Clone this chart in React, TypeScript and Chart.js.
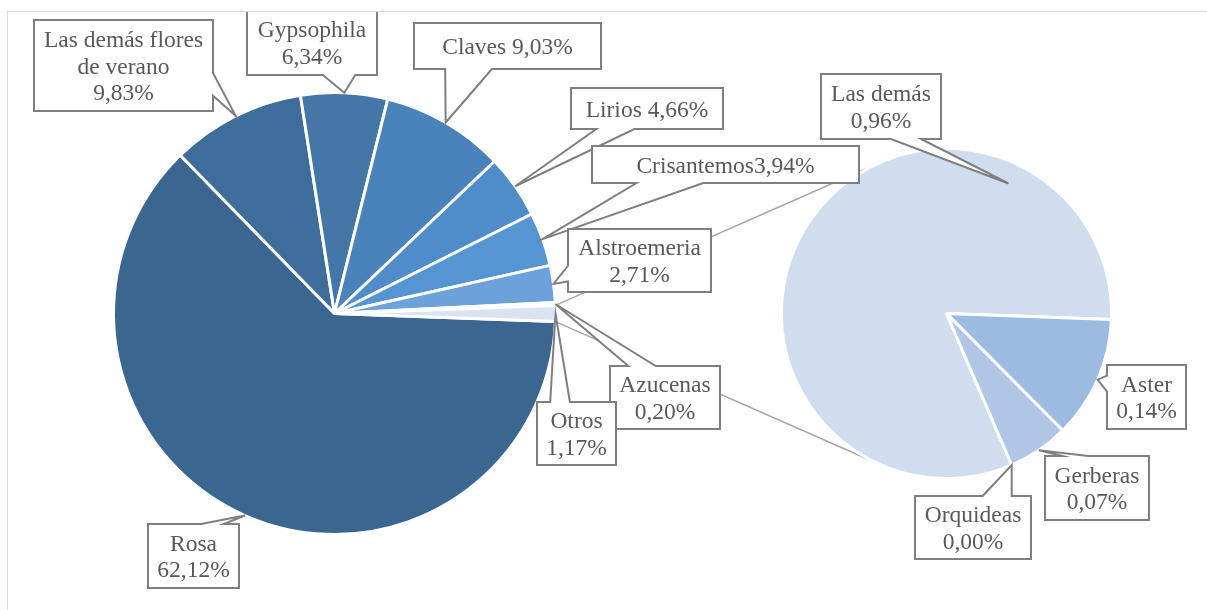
import React, { useEffect, useRef } from "react";
import { Chart, registerables } from "chart.js";

Chart.register(...registerables);

// ---- data ----
const mainCategories = [
  "Rosa",
  "Las demás flores de verano",
  "Gypsophila",
  "Claves",
  "Lirios",
  "Crisantemos",
  "Alstroemeria",
  "Azucenas",
  "Otros",
];
const mainValues = [62.12, 9.83, 6.34, 9.03, 4.66, 3.94, 2.71, 0.2, 1.17];
const mainColors = [
  "#3A6690",
  "#3E6D9B",
  "#4476A8",
  "#4A82BB",
  "#4F8CCA",
  "#5595D4",
  "#6CA1DA",
  "#EEF3FA",
  "#D9E3F2",
];

const subCategories = ["Las demás", "Aster", "Gerberas", "Orquideas"];
const subValues = [0.96, 0.14, 0.07, 0.0];
const subColors = ["#CFDDEE", "#9DBBE1", "#B1C7E6", "#C5D5EC"];

// ---- layout / style ----
type Side = "t" | "b" | "l" | "r";
type LabelLayout = {
  box: [number, number, number, number];
  side: Side;
  mode: "stack" | "inline" | "tight";
  wrap?: number;
  tip?: [number, number]; // [angle deg clockwise from north, radius fraction]
};

const mainLabelLayout: LabelLayout[] = [
  { box: [148, 524, 91, 64], side: "t", mode: "stack" },
  { box: [34, 20, 179, 91], side: "r", mode: "stack", wrap: 3 },
  { box: [247, 10, 130, 65], side: "b", mode: "stack" },
  { box: [414, 23, 187, 46], side: "b", mode: "inline" },
  { box: [571, 88, 152, 41], side: "b", mode: "inline" },
  { box: [592, 146, 267, 37], side: "b", mode: "tight" },
  { box: [568, 229, 143, 63], side: "l", mode: "stack" },
  { box: [610, 366, 110, 63], side: "t", mode: "stack" },
  { box: [537, 402, 79, 63], side: "t", mode: "stack" },
];
const subLabelLayout: LabelLayout[] = [
  { box: [821, 74, 120, 65], side: "b", mode: "stack", tip: [25.5, 0.873] },
  { box: [1107, 365, 79, 64], side: "l", mode: "stack" },
  { box: [1045, 456, 104, 64], side: "t", mode: "stack" },
  { box: [915, 496, 116, 63], side: "t", mode: "stack" },
];

const W = 1207;
const H = 610;
const FONT = '23.5px "Liberation Serif", "Times New Roman", serif';
const TEXT_COLOR = "#595959";
const BOX_STROKE = "#7F7F7F";
const CONNECTOR = "#A6A6A6";
const LINE_H = 26.5;
const SLICE_BORDER = 3;

const sumOf = (a: number[]) => a.reduce((s, v) => s + v, 0);
const otrosIndex = mainCategories.indexOf("Otros");
// Excel centres the "Otros" slice on 3 o'clock
const mainRotation =
  90 + ((mainValues[otrosIndex] / sumOf(mainValues)) * 360) / 2;
const subRotation = mainRotation - (subValues[0] / sumOf(subValues)) * 360;

const fmt = (v: number) => v.toFixed(2).replace(".", ",") + "%";

function labelLines(name: string, v: number, L: LabelLayout): string[] {
  if (L.mode === "inline") return [name + " " + fmt(v)];
  if (L.mode === "tight") return [name + fmt(v)];
  const lines: string[] = [];
  if (L.wrap) {
    const words = name.split(" ");
    lines.push(words.slice(0, L.wrap).join(" "));
    lines.push(words.slice(L.wrap).join(" "));
  } else lines.push(name);
  lines.push(fmt(v));
  return lines;
}

function calloutPath(
  ctx: CanvasRenderingContext2D,
  L: LabelLayout,
  tx: number,
  ty: number
) {
  const [x, y, w, h] = L.box;
  const horiz = L.side === "t" || L.side === "b";
  const len = horiz ? w : h;
  const proj = horiz ? tx - x : ty - y;
  const first = [len / 6, (5 * len) / 12];
  const second = [(7 * len) / 12, (5 * len) / 6];
  const c1 = (first[0] + first[1]) / 2;
  const c2 = (second[0] + second[1]) / 2;
  const [a, b] = Math.abs(proj - c1) <= Math.abs(proj - c2) ? first : second;
  ctx.beginPath();
  ctx.moveTo(x, y);
  if (L.side === "t") {
    ctx.lineTo(x + a, y);
    ctx.lineTo(tx, ty);
    ctx.lineTo(x + b, y);
  }
  ctx.lineTo(x + w, y);
  if (L.side === "r") {
    ctx.lineTo(x + w, y + a);
    ctx.lineTo(tx, ty);
    ctx.lineTo(x + w, y + b);
  }
  ctx.lineTo(x + w, y + h);
  if (L.side === "b") {
    ctx.lineTo(x + b, y + h);
    ctx.lineTo(tx, ty);
    ctx.lineTo(x + a, y + h);
  }
  ctx.lineTo(x, y + h);
  if (L.side === "l") {
    ctx.lineTo(x, y + b);
    ctx.lineTo(tx, ty);
    ctx.lineTo(x, y + a);
  }
  ctx.closePath();
}

function makeLabelPlugin(
  id: string,
  categories: string[],
  values: number[],
  layout: LabelLayout[]
) {
  return {
    id,
    afterDraw(chart: any) {
      const ctx: CanvasRenderingContext2D = chart.ctx;
      const meta = chart.getDatasetMeta(0);
      ctx.save();
      ctx.beginPath();
      ctx.rect(8, 12, chart.width - 8, chart.height - 12);
      ctx.clip();
      ctx.font = FONT;
      meta.data.forEach((el: any, i: number) => {
        const L = layout[i];
        if (!L) return;
        const p = el.getProps(
          ["x", "y", "startAngle", "endAngle", "outerRadius"],
          true
        );
        let tx: number, ty: number;
        if (L.tip) {
          const ang = ((L.tip[0] - 90) * Math.PI) / 180;
          const r = L.tip[1] * p.outerRadius;
          tx = p.x + r * Math.cos(ang);
          ty = p.y + r * Math.sin(ang);
        } else {
          const mid = (p.startAngle + p.endAngle) / 2;
          const r = p.outerRadius;
          tx = p.x + r * Math.cos(mid);
          ty = p.y + r * Math.sin(mid);
        }
        calloutPath(ctx, L, tx, ty);
        ctx.fillStyle = "#FFFFFF";
        ctx.fill();
        ctx.lineWidth = 2;
        ctx.strokeStyle = BOX_STROKE;
        ctx.lineJoin = "miter";
        ctx.stroke();

        const lines = labelLines(categories[i], values[i], L);
        const [bx, by, bw, bh] = L.box;
        const cx = bx + bw / 2;
        const cy = by + bh / 2 + 2;
        ctx.fillStyle = TEXT_COLOR;
        ctx.textAlign = "center";
        ctx.textBaseline = "middle";
        lines.forEach((t, k) => {
          ctx.fillText(t, cx, cy + (k - (lines.length - 1) / 2) * LINE_H);
        });
      });
      ctx.restore();
    },
  };
}

function makeConnectorPlugin(getMain: () => any) {
  return {
    id: "connectors",
    beforeDatasetsDraw(chart: any) {
      const main = getMain();
      if (!main) return;
      const otros = main.getDatasetMeta(0).data[otrosIndex];
      const sub = chart.getDatasetMeta(0).data[0];
      if (!otros || !sub) return;
      const o = otros.getProps(
        ["x", "y", "startAngle", "endAngle", "outerRadius"],
        true
      );
      const s = sub.getProps(["x", "y", "outerRadius"], true);
      const R = o.outerRadius;
      const pts = [
        { x: o.x + R * Math.cos(o.startAngle), y: o.y + R * Math.sin(o.startAngle), sgn: -1 },
        { x: o.x + R * Math.cos(o.endAngle), y: o.y + R * Math.sin(o.endAngle), sgn: 1 },
      ];
      const ctx: CanvasRenderingContext2D = chart.ctx;
      ctx.save();
      ctx.strokeStyle = CONNECTOR;
      ctx.lineWidth = 1.5;
      pts.forEach((P) => {
        const dx = s.x - P.x;
        const dy = s.y - P.y;
        const d = Math.hypot(dx, dy);
        const th = Math.atan2(dy, dx);
        const al = Math.asin(Math.min(1, s.outerRadius / d));
        const Lg = Math.sqrt(Math.max(0, d * d - s.outerRadius * s.outerRadius));
        const dir = th + P.sgn * al;
        ctx.beginPath();
        ctx.moveTo(P.x, P.y);
        ctx.lineTo(P.x + Lg * Math.cos(dir), P.y + Lg * Math.sin(dir));
        ctx.stroke();
      });
      ctx.restore();
    },
  };
}

export default function App() {
  const mainRef = useRef<HTMLCanvasElement | null>(null);
  const subRef = useRef<HTMLCanvasElement | null>(null);

  useEffect(() => {
    document.documentElement.style.overflow = "hidden";
    if (!mainRef.current || !subRef.current) return;

    const common = {
      responsive: false,
      maintainAspectRatio: false,
      animation: false as const,
      devicePixelRatio: 1,
      events: [] as any[],
      plugins: { legend: { display: false }, tooltip: { enabled: false } },
    };

    const mainChart = new Chart(mainRef.current, {
      type: "pie",
      data: {
        labels: mainCategories,
        datasets: [
          {
            data: mainValues,
            backgroundColor: mainColors,
            borderColor: "#FFFFFF",
            borderWidth: SLICE_BORDER,
          },
        ],
      },
      options: {
        ...common,
        rotation: mainRotation,
        layout: { padding: { left: 112, top: 91, right: 650, bottom: 74 } },
      } as any,
      plugins: [
        makeLabelPlugin("mainLabels", mainCategories, mainValues, mainLabelLayout),
      ],
    });

    const subChart = new Chart(subRef.current, {
      type: "pie",
      data: {
        labels: subCategories,
        datasets: [
          {
            data: subValues,
            backgroundColor: subColors,
            borderColor: "#FFFFFF",
            borderWidth: SLICE_BORDER,
          },
        ],
      },
      options: {
        ...common,
        rotation: subRotation,
        layout: { padding: { left: 780, top: 147, right: 94, bottom: 130 } },
      } as any,
      plugins: [
        makeConnectorPlugin(() => mainChart),
        makeLabelPlugin("subLabels", subCategories, subValues, subLabelLayout),
      ],
    });

    return () => {
      subChart.destroy();
      mainChart.destroy();
    };
  }, []);

  const canvasStyle: React.CSSProperties = {
    position: "absolute",
    left: 0,
    top: 0,
    width: W,
    height: H,
  };

  return (
    <div>
      <div
        style={{
          position: "absolute",
          left: 7,
          top: 11,
          width: 1200,
          height: 599,
          boxSizing: "border-box",
          borderTop: "1px solid #D9D9D9",
          borderLeft: "1px solid #D9D9D9",
          background: "#FFFFFF",
        }}
      />
      <canvas ref={subRef} width={W} height={H} style={canvasStyle} />
      <canvas ref={mainRef} width={W} height={H} style={canvasStyle} />
    </div>
  );
}
